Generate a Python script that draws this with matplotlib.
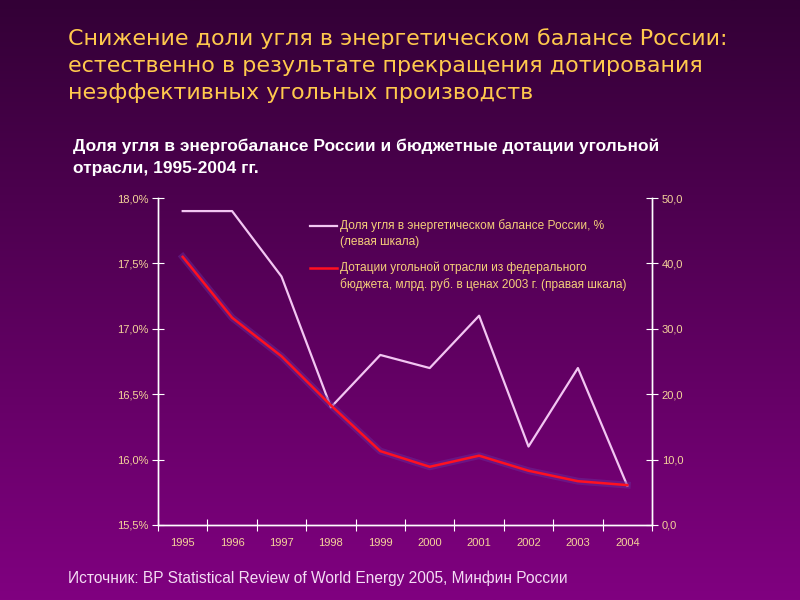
import numpy as np
import matplotlib
matplotlib.use("Agg")
import matplotlib.pyplot as plt
from matplotlib.lines import Line2D

years = ["1995", "1996", "1997", "1998", "1999", "2000", "2001", "2002", "2003", "2004"]
coal_share = [17.9, 17.9, 17.4, 16.4, 16.8, 16.7, 17.1, 16.1, 16.7, 15.8]
subsidies = [41.0, 31.7, 25.8, 18.3, 11.3, 8.9, 10.6, 8.3, 6.7, 6.1]
left_ticks = [15.5, 16.0, 16.5, 17.0, 17.5, 18.0]
right_ticks = [0, 10, 20, 30, 40, 50]

title = ("Снижение доли угля в энергетическом балансе России:\n"
         "естественно в результате прекращения дотирования\n"
         "неэффективных угольных производств")
subtitle = ("Доля угля в энергобалансе России и бюджетные дотации угольной\n"
            "отрасли, 1995-2004 гг.")
label_share = "Доля угля в энергетическом балансе России, %\n(левая шкала)"
label_subs = ("Дотации угольной отрасли из федерального\n"
              "бюджета, млрд. руб. в ценах 2003 г. (правая шкала)")
source = "Источник: BP Statistical Review of World Energy 2005, Минфин России"

share_col = "#f2c6f2"
subs_col = "#ff1020"

fig = plt.figure(figsize=(8, 6), dpi=100)

# gradient background
bg = fig.add_axes([0, 0, 1, 1], zorder=-10)
top = np.array([0x33, 0x00, 0x36]) / 255
bot = np.array([0x80, 0x00, 0x80]) / 255
t = np.linspace(0, 1, 256)[:, None]
grad = top[None, :] * (1 - t) + bot[None, :] * t
bg.imshow(grad[:, None, :], aspect="auto", extent=[0, 1, 0, 1])
bg.set_axis_off()

tick_col = "#f5d49a"
leg_col = "#f5cf7a"

fig.text(0.085, 0.953, title, color="#ffc94d", fontsize=16, family="DejaVu Sans",
         va="top", ha="left", linespacing=1.45)
fig.text(0.091, 0.770, subtitle, color="white", fontsize=12.5, fontweight="bold",
         family="Liberation Sans", va="top", ha="left", linespacing=1.62)
fig.text(0.085, 0.037, source, color="#f4dcf4", fontsize=11.2,
         family="Liberation Sans", va="center", ha="left")

ax = fig.add_axes([0.1975, 0.125, 0.6175, 0.545])
ax.set_facecolor("none")
x = np.arange(len(years)) + 0.5
ax.plot(x, coal_share, color=share_col, lw=1.6, zorder=3)
ax.set_xlim(0, len(years))
ax.set_ylim(15.5, 18.0)
ax.set_yticks(left_ticks)
ax.set_yticklabels([f"{v:.1f}%".replace(".", ",") for v in left_ticks])
ax.set_xticks(np.arange(len(years) + 1))
ax.set_xticklabels([])
ax.set_xticks(x, minor=True)
ax.set_xticklabels(years, minor=True)
ax.tick_params(axis="x", which="minor", length=0, pad=9)

ax2 = ax.twinx()
ax2.plot(x, subsidies, color="#6a2a9a", lw=5, alpha=0.5, zorder=1)
ax2.plot(x, subsidies, color=subs_col, lw=1.8, zorder=2)
ax2.set_ylim(0, 50)
ax2.set_yticks(right_ticks)
ax2.set_yticklabels([f"{v:.1f}".replace(".", ",") for v in right_ticks])

for a in (ax, ax2):
    for s in a.spines.values():
        s.set_color("white")
        s.set_linewidth(1.0)
    a.spines["top"].set_visible(False)
    a.tick_params(which="major", direction="inout", length=8, color="white",
                  labelcolor=tick_col, labelsize=8)
    a.tick_params(which="minor", labelcolor=tick_col, labelsize=8)
    for lab in a.get_xticklabels(minor=True) + a.get_yticklabels():
        lab.set_family("Liberation Sans")
ax.tick_params(axis="y", pad=3)
ax2.tick_params(axis="y", pad=3)

# legend (handles aligned with first text line, as in the original)
W, H = 800.0, 600.0
for (label, col, lw, ypx) in [(label_share, share_col, 1.6, 226), (label_subs, subs_col, 1.8, 268)]:
    fig.add_artist(Line2D([310 / W, 337 / W], [1 - ypx / H, 1 - ypx / H],
                          transform=fig.transFigure, color=col, lw=lw))
    fig.text(340 / W, 1 - (ypx - 7) / H, label, color=leg_col, fontsize=8.6,
             family="Liberation Sans", va="top", ha="left", linespacing=1.5)

fig.savefig("out.png", dpi=100)
